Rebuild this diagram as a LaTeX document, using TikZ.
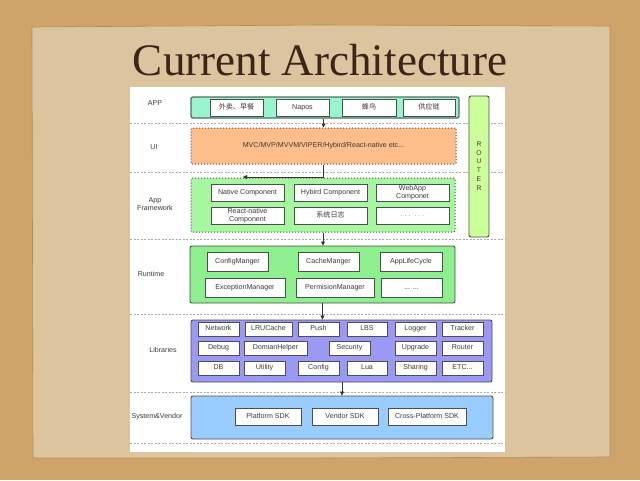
\documentclass[tikz,border=0pt]{standalone}
\usepackage{fontspec}
\setmainfont{Liberation Sans}
\newfontfamily\titlefont{Liberation Serif}
\newfontfamily\cjk{Noto Sans CJK SC}
\usetikzlibrary{arrows.meta}
\definecolor{outerbg}{HTML}{CFA46B}
\definecolor{paper}{HTML}{DBC49E}
\definecolor{paperedge}{HTML}{B08A58}
\definecolor{titlecol}{HTML}{3B2418}
\definecolor{appfill}{HTML}{99F5CC}
\definecolor{appborder}{HTML}{4F6F60}
\definecolor{uifill}{HTML}{FDBE8C}
\definecolor{affill}{HTML}{A6F7A0}
\definecolor{rtfill}{HTML}{8DEF8D}
\definecolor{libfill}{HTML}{9A9AF5}
\definecolor{sysfill}{HTML}{99CCFF}
\definecolor{routerfill}{HTML}{CCFF99}
\definecolor{bordercol}{HTML}{4D4D4D}
\definecolor{txtcol}{HTML}{3A3A3A}
\definecolor{sepcol}{HTML}{AAAAAA}
\tikzset{
  txt/.style={font=\fontsize{7.1}{7.6}\selectfont, text=txtcol, align=center, inner sep=0pt},
  layerlabel/.style={txt},
  iboxtwo/.style={txt, draw=bordercol, fill=white, line width=0.8pt},
  ibox/.style={iboxtwo, text height=5.2pt, text depth=1.4pt},
  obox/.style={draw=bordercol, line width=0.9pt, rounded corners=2pt, inner sep=0pt},
  dbox/.style={draw=bordercol, line width=1pt, dotted, rounded corners=1pt, inner sep=0pt},
  sep/.style={draw=sepcol, line width=0.6pt, dash pattern=on 2pt off 1.5pt},
  arr/.style={draw=black!80, line width=0.8pt, -{Triangle[length=4pt,width=4pt]}}
}
\begin{document}
\begin{tikzpicture}[x=1pt,y=-1pt]
\useasboundingbox (0,0) rectangle (640,480);
% backgrounds
\fill[outerbg] (0,0) rectangle (640,480);
\fill[paper, draw=paperedge, line width=0.6pt] (32,27) -- (320,25) -- (610,26) -- (610,457) -- (320,458) -- (33,458) -- cycle;
\fill[white] (130,87) rectangle (505,452);
% title
\node[anchor=base, text=titlecol, inner sep=0pt] (title) at (320,75) {\resizebox{374pt}{!}{\titlefont Current Architecture}};
% separators
\foreach \yy in {123,172,239,314,392,443} \draw[sep] (130,\yy) -- (505,\yy);
% layer labels
\node[layerlabel] (lapp) at (155,103) {APP};
\node[layerlabel] (lui) at (154,147) {UI};
\node[layerlabel] (laf) at (155,204) {App\\Framework};
\node[layerlabel] (lrt) at (151,274) {Runtime};
\node[layerlabel] (llib) at (163,350) {Libraries};
\node[layerlabel] (lsys) at (157,417) {System\&Vendor};
% router
\node[obox, fill=routerfill, minimum width=20pt, minimum height=141pt] (router) at (479,166.5) {};
\node[txt, font=\fontsize{6.8}{8.7}\selectfont] (routertxt) at (479,166) {R\\O\\U\\T\\E\\R};
% APP
\node[obox, fill=appfill, minimum width=268pt, minimum height=21pt, draw=appborder, line width=1.3pt] (app) at (325,107.5) {};
\node[ibox, minimum width=53pt, minimum height=17pt] (a1) at (236.5,107.5) {\cjk 外卖、早餐};
\node[ibox, minimum width=53pt, minimum height=17pt] (a2) at (302.5,107.5) {Napos};
\node[ibox, minimum width=54pt, minimum height=17pt] (a3) at (369,107.5) {\cjk 蜂鸟};
\node[ibox, minimum width=52pt, minimum height=17pt] (a4) at (429,107.5) {\cjk 供应链};
% UI
\node[dbox, fill=uifill, minimum width=265pt, minimum height=36pt] (ui) at (323.5,146) {};
\node[txt] (uitxt) at (323.5,146) {MVC/MVP/MVVM/VIPER/Hybird/React-native etc...};
% App Framework
\node[dbox, fill=affill, minimum width=264pt, minimum height=54pt] (af) at (323,205) {};
\node[ibox, minimum width=73pt, minimum height=17pt] (f1) at (247.5,192.5) {Native Component};
\node[ibox, minimum width=73pt, minimum height=17pt] (f2) at (330.5,192.5) {Hybird Component};
\node[iboxtwo, minimum width=73pt, minimum height=17pt] (f3) at (412.5,192.5) {WebApp\\Componet};
\node[iboxtwo, minimum width=73pt, minimum height=17pt] (f4) at (247.5,215.5) {React-native\\Component};
\node[ibox, minimum width=73pt, minimum height=17pt] (f5) at (330.5,215.5) {\cjk 系统日志};
\node[ibox, minimum width=73pt, minimum height=17pt] (f6) at (412.5,215.5) {$\cdots$\ \ $\cdots$};
% Runtime
\node[obox, fill=rtfill, minimum width=265pt, minimum height=57pt] (rt) at (322.5,274.5) {};
\node[ibox, minimum width=61pt, minimum height=19pt] (r1) at (237.5,261.5) {ConfigManger};
\node[ibox, minimum width=61pt, minimum height=19pt] (r2) at (328.5,261.5) {CacheManger};
\node[ibox, minimum width=62pt, minimum height=19pt] (r3) at (411,261.5) {AppLifeCycle};
\node[ibox, minimum width=80pt, minimum height=19pt] (r4) at (245,287.5) {ExceptionManager};
\node[ibox, minimum width=78pt, minimum height=19pt] (r5) at (335,287.5) {PermisionManager};
\node[ibox, minimum width=61pt, minimum height=19pt] (r6) at (411.5,287.5) {... ...};
% Libraries
\node[obox, fill=libfill, minimum width=301pt, minimum height=62pt] (lib) at (341.5,351) {};
\node[ibox, minimum width=41pt, minimum height=14pt] (l1) at (218.5,329) {Network};
\node[ibox, minimum width=47pt, minimum height=14pt] (l2) at (268.5,329) {LRUCache};
\node[ibox, minimum width=41pt, minimum height=14pt] (l3) at (318.5,329) {Push};
\node[ibox, minimum width=40pt, minimum height=14pt] (l4) at (367,329) {LBS};
\node[ibox, minimum width=41pt, minimum height=14pt] (l5) at (415.5,329) {Logger};
\node[ibox, minimum width=41pt, minimum height=14pt] (l6) at (462.5,329) {Tracker};
\node[ibox, minimum width=41pt, minimum height=14pt] (l7) at (218.5,348) {Debug};
\node[ibox, minimum width=63pt, minimum height=14pt] (l8) at (275.5,348) {DomianHelper};
\node[ibox, minimum width=41pt, minimum height=14pt] (l9) at (349.5,348) {Security};
\node[ibox, minimum width=41pt, minimum height=14pt] (l10) at (415.5,348) {Upgrade};
\node[ibox, minimum width=41pt, minimum height=14pt] (l11) at (462.5,348) {Router};
\node[ibox, minimum width=41pt, minimum height=14pt] (l12) at (218.5,368) {DB};
\node[ibox, minimum width=41pt, minimum height=14pt] (l13) at (264.5,368) {Utility};
\node[ibox, minimum width=41pt, minimum height=14pt] (l14) at (318.5,368) {Config};
\node[ibox, minimum width=40pt, minimum height=14pt] (l15) at (367,368) {Lua};
\node[ibox, minimum width=41pt, minimum height=14pt] (l16) at (415.5,368) {Sharing};
\node[ibox, minimum width=41pt, minimum height=14pt] (l17) at (462.5,368) {ETC...};
% System & Vendor
\node[obox, fill=sysfill, minimum width=302pt, minimum height=43pt] (sys) at (342,417.5) {};
\node[ibox, minimum width=66pt, minimum height=17pt] (s1) at (268,416.5) {Platform SDK};
\node[ibox, minimum width=66pt, minimum height=17pt] (s2) at (345,416.5) {Vendor SDK};
\node[ibox, minimum width=78pt, minimum height=17pt] (s3) at (427,416.5) {Cross-Platform SDK};
% connectors
\coordinate (aftip) at (243,177);
\draw[arr] (ui.north |- app.south) -- (ui.north);
\draw[arr] (ui.south) |- (aftip);
\draw[arr] (af.south) -- (rt.north -| af.south);
\draw[arr] (rt.south) -- (lib.north -| rt.south);
\draw[arr] (lib.south -| sys.north) -- (sys.north);
\end{tikzpicture}
\end{document}
